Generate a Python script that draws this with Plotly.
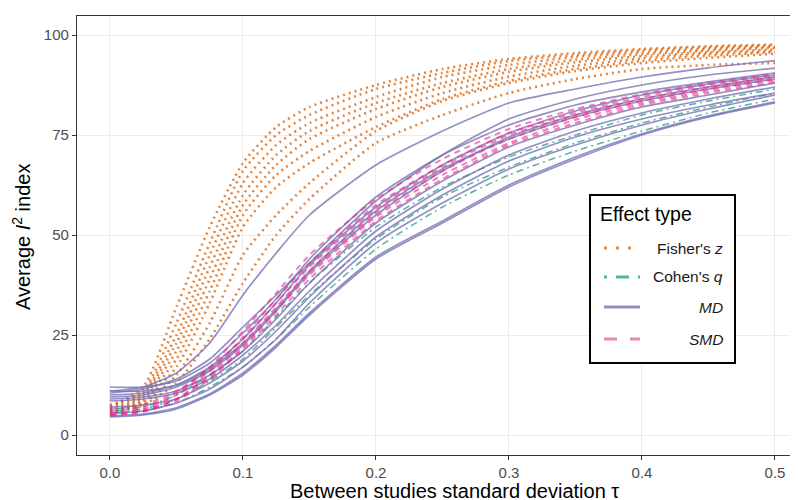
import plotly.graph_objects as go

# ---------------- data ----------------
tau = [0.0, 0.025, 0.05, 0.075, 0.1, 0.125, 0.15, 0.2, 0.25, 0.3, 0.35, 0.4, 0.45, 0.5]

fisher_z = [
    [7.0, 12.0, 32.0, 52.0, 68.0, 77.0, 82.0, 87.5, 91.5, 94.0, 95.5, 96.5, 97.2, 97.6],
    [7.5, 11.0, 28.0, 48.0, 66.0, 75.0, 80.0, 86.5, 90.5, 93.5, 95.0, 96.2, 96.9, 97.4],
    [7.0, 10.5, 25.0, 45.0, 63.0, 72.5, 78.0, 84.5, 89.5, 92.5, 94.5, 95.7, 96.5, 97.1],
    [6.5, 10.0, 23.0, 42.0, 60.0, 70.0, 76.0, 83.0, 88.0, 91.5, 93.8, 95.2, 96.1, 96.8],
    [6.0, 9.5, 21.0, 39.0, 57.5, 67.5, 74.0, 81.5, 87.0, 90.8, 93.2, 94.7, 95.7, 96.4],
    [5.5, 9.0, 19.0, 36.0, 55.0, 65.0, 71.0, 79.5, 85.5, 89.6, 92.3, 94.1, 95.3, 96.0],
    [5.0, 8.5, 17.0, 33.0, 52.0, 62.0, 68.0, 77.0, 84.0, 88.5, 91.5, 93.5, 94.8, 95.7],
    [6.0, 8.0, 15.0, 28.0, 45.0, 55.0, 63.0, 76.0, 83.5, 88.0, 91.0, 93.0, 94.3, 95.3],
    [5.5, 7.5, 13.0, 24.0, 38.0, 50.0, 59.0, 73.0, 80.0, 85.5, 89.0, 91.5, 92.5, 93.0],
]

cohens_q = [
    [5.5, 6.0, 8.0, 12.0, 17.0, 24.0, 32.0, 46.5, 57.0, 65.0, 71.0, 76.0, 80.5, 84.0],
    [6.0, 6.5, 9.0, 13.5, 19.0, 27.0, 35.0, 49.0, 59.5, 67.0, 73.0, 78.0, 82.0, 85.5],
    [6.5, 7.0, 10.0, 15.0, 21.0, 29.5, 38.0, 52.0, 62.0, 69.5, 75.0, 80.0, 83.5, 86.5],
]

md = [
    [11.0, 12.0, 15.5, 23.0, 35.0, 45.5, 55.0, 67.5, 76.0, 83.0, 86.5, 89.5, 91.8, 93.6],
    [10.5, 11.5, 14.0, 19.0, 27.0, 35.0, 43.0, 58.5, 70.0, 79.0, 84.0, 87.5, 90.0, 91.7],
    [12.0, 12.0, 13.5, 18.0, 25.5, 34.0, 44.0, 59.5, 70.0, 77.5, 82.5, 85.8, 88.3, 90.5],
    [10.0, 10.5, 12.5, 17.0, 24.0, 33.0, 42.5, 57.0, 67.5, 75.5, 81.0, 85.0, 87.8, 90.0],
    [9.5, 10.0, 12.0, 16.0, 22.5, 31.0, 40.5, 55.0, 66.0, 74.5, 80.0, 84.0, 87.0, 89.5],
    [11.0, 11.0, 12.5, 16.5, 23.0, 31.5, 41.0, 56.0, 66.5, 74.0, 79.5, 83.5, 86.5, 89.0],
    [9.0, 9.5, 11.0, 15.0, 21.0, 29.0, 38.0, 53.0, 63.5, 72.0, 77.5, 82.0, 85.0, 88.0],
    [8.5, 9.0, 10.5, 14.0, 20.0, 27.5, 36.0, 51.0, 61.5, 70.0, 76.0, 80.5, 84.0, 87.0],
    [7.0, 7.5, 9.0, 13.0, 18.5, 26.0, 34.5, 49.5, 60.0, 68.5, 74.5, 79.0, 82.5, 85.5],
    [5.5, 6.0, 8.0, 11.5, 17.0, 24.0, 33.0, 48.0, 58.0, 66.5, 72.5, 77.5, 81.5, 85.0],
    [4.5, 5.0, 6.5, 10.0, 15.0, 22.0, 30.0, 44.0, 53.0, 62.0, 69.0, 75.0, 79.5, 83.0],
    [4.8, 5.2, 6.8, 10.3, 15.5, 22.5, 30.5, 44.5, 53.5, 62.5, 69.5, 75.3, 79.8, 83.3],
]

smd = [
    [5.0, 6.0, 9.0, 15.0, 23.0, 32.0, 41.0, 55.5, 66.0, 74.0, 79.5, 83.5, 86.5, 89.0],
    [5.5, 6.5, 10.0, 16.0, 24.5, 34.0, 43.0, 57.5, 67.5, 75.5, 80.5, 84.5, 87.5, 89.8],
    [6.0, 7.0, 10.5, 17.0, 26.0, 35.5, 45.0, 59.0, 69.0, 76.5, 81.5, 85.2, 88.0, 90.3],
    [4.8, 5.8, 8.5, 14.0, 21.5, 30.0, 39.0, 53.5, 64.0, 72.5, 78.0, 82.5, 85.5, 88.2],
    [6.5, 7.5, 11.0, 16.5, 24.0, 33.0, 42.0, 56.5, 67.0, 75.0, 80.0, 84.0, 87.0, 89.5],
    [5.2, 6.0, 9.0, 14.5, 22.0, 31.0, 40.0, 54.5, 65.0, 73.0, 78.8, 83.0, 86.0, 88.7],
]

x_ticks = [0.0, 0.1, 0.2, 0.3, 0.4, 0.5]
x_tick_labels = ["0.0", "0.1", "0.2", "0.3", "0.4", "0.5"]
y_ticks = [0, 25, 50, 75, 100]
y_tick_labels = ["0", "25", "50", "75", "100"]

x_title = "Between studies standard deviation τ"
y_title = "Average <i>I</i><sup>2</sup> index"
legend_title = "Effect type"
legend_labels = ["Fisher's <i>z</i>", "Cohen's <i>q</i>", "<i>MD</i>", "<i>SMD</i>"]

# ---------------- styles ----------------
FONT = "Liberation Sans, Arial, Helvetica, sans-serif"
styles = {
    "fisher": dict(color="rgba(217,95,2,0.75)", width=2.6, dash="2px,4px"),
    "cohen": dict(color="rgba(27,158,119,0.75)", width=1.5, dash="2px,4px,7px,4px"),
    "md": dict(color="rgba(117,112,179,0.78)", width=1.7, dash="solid"),
    "smd": dict(color="rgba(231,41,138,0.6)", width=2.0, dash="6px,5px"),
}
legend_dash = {
    "fisher": "3px,9px",
    "cohen": "3px,9px,13px,9px",
    "md": "solid",
    "smd": "13px,13px",
}

fig = go.Figure()
for key, group in [("fisher", fisher_z), ("cohen", cohens_q), ("md", md), ("smd", smd)]:
    for ys in group:
        fig.add_trace(go.Scatter(
            x=tau, y=ys, mode="lines",
            line=dict(shape="spline", smoothing=0.6, **styles[key]),
            showlegend=False, hoverinfo="skip",
        ))

# ---------------- custom legend box (ggplot style) ----------------
shapes = [dict(type="rect", xref="paper", yref="paper",
               x0=0.7115, x1=0.9126, y0=0.2096, y1=0.5923,
               line=dict(color="#000000", width=2), fillcolor="#ffffff", layer="above")]
annotations = [
    dict(text=legend_title, xref="paper", yref="paper", x=0.7230, y=0.549,
         xanchor="left", yanchor="middle", showarrow=False,
         font=dict(family=FONT, size=19.5, color="#000000")),
    dict(text=x_title, xref="paper", yref="paper", x=0.523, y=-0.082,
         xanchor="center", yanchor="middle", showarrow=False,
         font=dict(family=FONT, size=20, color="#000000")),
    dict(text=y_title, xref="paper", yref="paper", x=-0.0763, y=0.4966,
         xanchor="center", yanchor="middle", showarrow=False, textangle=-90,
         font=dict(family=FONT, size=20, color="#000000")),
]
row_y = [0.4715, 0.4055, 0.3371, 0.2642]
for key, lab, yy in zip(["fisher", "cohen", "md", "smd"], legend_labels, row_y):
    st = styles[key]
    shapes.append(dict(type="line", xref="paper", yref="paper",
                       x0=0.7309, x1=0.7809, y0=yy, y1=yy, layer="above",
                       line=dict(color=st["color"], width=3, dash=legend_dash[key])))
    annotations.append(dict(text=lab, xref="paper", yref="paper", x=0.8988, y=yy,
                            xanchor="right", yanchor="middle", showarrow=False,
                            font=dict(family=FONT, size=15.5, color="#1a1a1a")))

# page has an 8px body margin, so the figure is drawn 8px smaller and shifted
fig.update_layout(
    width=790, height=492,
    margin=dict(l=69, r=0, t=8, b=45),
    paper_bgcolor="#ffffff", plot_bgcolor="#ffffff",
    font=dict(family=FONT, color="#1a1a1a"),
    shapes=shapes, annotations=annotations,
    showlegend=False,
)
fig.update_xaxes(
    range=[-0.0248, 0.5173], tickvals=x_ticks, ticktext=x_tick_labels,
    showgrid=True, gridcolor="#ebebeb", gridwidth=1, zeroline=False,
    showline=True, mirror=True, linecolor="#333333", linewidth=1.3,
    ticks="outside", ticklen=4, tickcolor="#333333", tickwidth=1,
    tickfont=dict(family=FONT, size=15, color="#4d4d4d"),
)
fig.update_yaxes(
    range=[-5, 104.75], tickvals=y_ticks, ticktext=y_tick_labels,
    showgrid=True, gridcolor="#ebebeb", gridwidth=1, zeroline=False,
    showline=True, mirror=True, linecolor="#333333", linewidth=1.3,
    ticks="outside", ticklen=4, tickcolor="#333333", tickwidth=1,
    tickfont=dict(family=FONT, size=15, color="#4d4d4d"),
)

fig.write_html("out.html")
